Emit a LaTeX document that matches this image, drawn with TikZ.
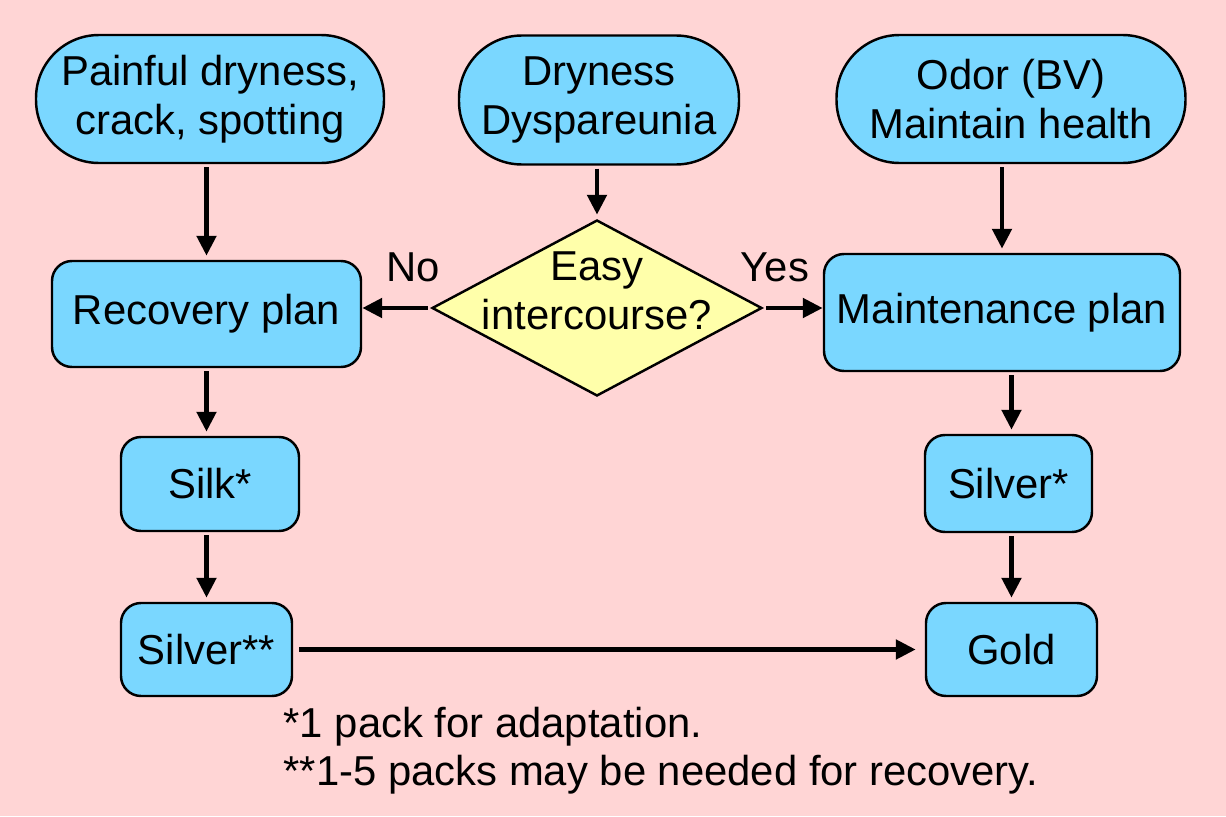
\documentclass[tikz,border=0pt]{standalone}
\usepackage{fontspec}
\setmainfont{Liberation Sans}
\usetikzlibrary{arrows.meta,shapes,backgrounds,positioning,calc}
\definecolor{bgpink}{RGB}{255,213,213}
\definecolor{boxblue}{RGB}{122,215,255}
\definecolor{askyellow}{RGB}{255,255,170}
\tikzstyle{term}=[rectangle, draw=black, fill=boxblue, line width=0.7pt, rounded corners=0.63cm, align=center, inner sep=0pt]
\tikzstyle{plan}=[rectangle, draw=black, fill=boxblue, line width=0.7pt, rounded corners=0.2cm, align=center, inner sep=0pt]
\tikzstyle{ask}=[diamond, draw=black, fill=askyellow, line width=0.7pt, inner sep=0pt]
\tikzstyle{lab}=[inner sep=0pt]
\tikzstyle{arr}=[-{Triangle[length=2mm,width=1.9mm]}, line width=1.4pt, shorten <=0.03cm, shorten >=0.04cm]
\newcommand{\pinkBox}{
	\begin{pgfonlayer}{background}
		\fill[bgpink] (current bounding box.south west) rectangle (current bounding box.north east);
	\end{pgfonlayer}
}
\begin{document}
\begin{tikzpicture}[font=\fontsize{11.9}{13.9}\selectfont]
        \useasboundingbox (0,0) rectangle (12.26,8.16);
        % top row
        \node at (2.10,7.17) [term, minimum width=3.48cm, minimum height=1.28cm] (painful) {Painful dryness,\\crack, spotting};
        \node at (5.99,7.16) [term, minimum width=2.80cm, minimum height=1.29cm] (dryness) {Dryness\\Dyspareunia};
        \node at (10.11,7.17) [term, minimum width=3.49cm, minimum height=1.28cm] (odor) {Odor (BV)\\Maintain health};
        % decision
        \node at (5.97,5.08) [ask, minimum width=3.30cm, minimum height=1.76cm] (easy) {};
        \node at (5.97,5.25) [lab, align=center] (easytxt) {Easy\\intercourse?};
        \node at (4.13,5.49) [lab] (no) {No};
        \node at (7.75,5.49) [lab] (yes) {Yes};
        % plans
        \node at (2.065,5.02) [plan, minimum width=3.09cm, minimum height=1.06cm] (recovery) {Recovery plan};
        \node at (10.02,5.035) [plan, minimum width=3.56cm, minimum height=1.17cm] (maint) {Maintenance plan};
        % products
        \node at (2.10,3.32) [plan, minimum width=1.78cm, minimum height=0.94cm] (silk) {Silk*};
        \node at (2.065,1.665) [plan, minimum width=1.71cm, minimum height=0.93cm] (silverL) {Silver**};
        \node at (10.085,3.325) [plan, minimum width=1.67cm, minimum height=0.97cm] (silverR) {Silver*};
        \node at (10.115,1.665) [plan, minimum width=1.71cm, minimum height=0.93cm] (gold) {Gold};
        % notes
        \node at (2.83,1.10) [lab, anchor=north west, align=left] (notes) {*1 pack for adaptation.\\**1-5 packs may be needed for recovery.};
        %
        \draw[arr] (recovery.north |- painful.south) -- (recovery.north);
        \draw[arr] (easy.north |- dryness.south) -- (easy.north);
        \draw[arr] (maint.north |- odor.south) -- (maint.north);
        \draw[arr, shorten >=0pt] (easy.west) -- (easy.west -| recovery.east);
        \draw[arr, shorten >=0pt] (easy.east) -- (easy.east -| maint.west);
        \draw[arr] (recovery.south -| silverL.north) -- (silk.north -| silverL.north);
        \draw[arr] (silk.south -| silverL.north) -- (silverL.north);
        \draw[arr] (maint.south -| gold.north) -- (silverR.north -| gold.north);
        \draw[arr] (silverR.south -| gold.north) -- (gold.north);
        \draw[arr, shorten <=0.06cm, shorten >=0.09cm] (silverL.east) -- (gold.west);
        %
        \pinkBox
      \end{tikzpicture}
\end{document}
